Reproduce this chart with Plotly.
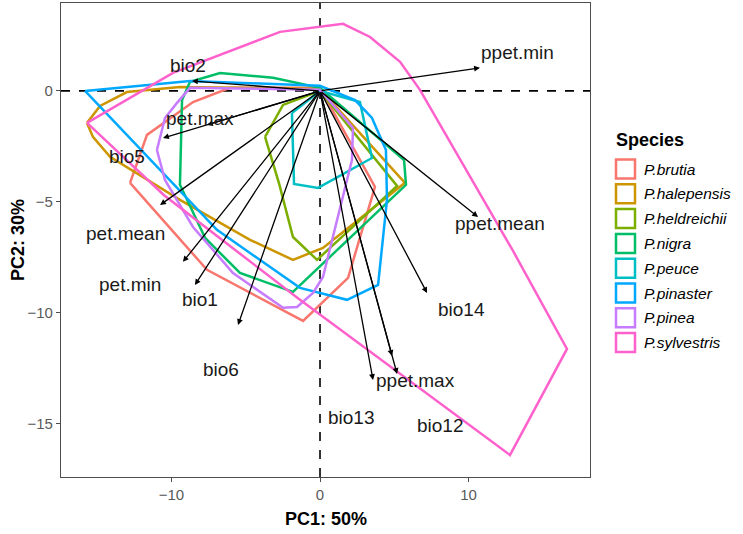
import plotly.graph_objects as go

# ---------------- data ----------------
species = ["P.brutia", "P.halepensis", "P.heldreichii", "P.nigra",
           "P.peuce", "P.pinaster", "P.pinea", "P.sylvestris"]
colors = ["#F8766D", "#CD9600", "#7CAE00", "#00BE67",
          "#00BFC4", "#00A9FF", "#C77CFF", "#FF61CC"]

# convex hulls of PCA scores (PC1, PC2) per species
brutia_x = [-12.79, -11.65, -8.55, -6.06, 0.0, 3.70, 1.89, -1.14, -7.61]
brutia_y = [-4.14, -1.98, -0.50, 0.14, 0.14, -4.32, -8.42, -10.36, -8.06]

halepensis_x = [-15.69, -14.81, -13.0, -9.43, 0.0, 5.72, 0.2, -1.82, -4.71, -9.43, -14.14, -15.29]
halepensis_y = [-1.44, -0.68, -0.05, 0.18, 0.09, -4.14, -7.07, -7.61, -6.71, -4.91, -2.97, -2.07]

heldreichii_x = [-3.70, -2.49, 0.0, 5.19, -0.2, -1.82, -2.75]
heldreichii_y = [-2.07, -0.63, 0.0, -4.28, -7.61, -6.58, -4.19]

nigra_x = [-9.29, -8.75, -6.73, -3.16, 0.0, 5.66, 5.79, -1.82, -5.39, -7.74, -9.43]
nigra_y = [-0.41, 0.41, 0.81, 0.59, 0.14, -3.11, -4.23, -9.05, -8.20, -6.62, -4.23]

peuce_x = [-1.89, -1.75, -0.13, 3.50, 2.69, 0.0]
peuce_y = [-0.99, -4.19, -4.37, -3.02, -0.50, 0.0]

pinaster_x = [-15.82, -8.75, 0.0, 2.36, 3.50, 4.44, 4.51, 3.91, 1.82, -1.35, -6.94]
pinaster_y = [0.0, 0.45, 0.23, -0.41, -1.22, -2.66, -4.91, -8.74, -9.41, -8.87, -6.26]

pinea_x = [-10.98, -10.44, -9.63, -8.75, 0.0, 2.22, 2.15, 1.35, 0.2, -0.47, -1.55, -2.49, -5.86, -8.55, -10.44]
pinea_y = [-2.66, -1.22, -0.54, 0.14, 0.05, -1.67, -3.11, -5.23, -8.38, -9.10, -9.73, -9.77, -8.20, -6.13, -4.01]

sylvestris_x = [-15.69, -9.90, -2.69, 1.55, 3.37, 5.39, 6.73, 13.0, 16.63, 12.79, -1.35, -10.5]
sylvestris_y = [-1.44, 0.81, 2.66, 3.02, 2.43, 1.31, 0.05, -7.21, -11.62, -16.40, -9.41, -4.70]

hull_x = [brutia_x, halepensis_x, heldreichii_x, nigra_x, peuce_x, pinaster_x, pinea_x, sylvestris_x]
hull_y = [brutia_y, halepensis_y, heldreichii_y, nigra_y, peuce_y, pinaster_y, pinea_y, sylvestris_y]

# variable loadings (arrow tips) and label positions
var_names = ["bio2", "pet.max", "bio5", "pet.mean", "pet.min", "bio1", "bio6",
             "bio13", "ppet.max", "bio12", "bio14", "ppet.mean", "ppet.min"]
load_x = [-8.62, -7.61, -10.57, -10.77, -9.23, -8.42, -5.52, 3.57, 4.85, 5.19, 7.21, 10.64, 10.77]
load_y = [0.45, -1.53, -2.12, -5.14, -7.70, -8.74, -10.54, -13.02, -11.94, -12.75, -9.10, -5.68, 1.04]
label_x = [-8.89, -8.08, -13.0, -13.13, -12.79, -8.08, -6.7, 2.15, 6.40, 8.08, 9.56, 12.12, 13.27]
label_y = [1.13, -1.22, -2.97, -6.44, -8.74, -9.41, -12.57, -14.73, -13.06, -15.05, -9.86, -5.99, 1.71]

x_ticks = [-10, 0, 10]
y_ticks = [-15, -10, -5, 0]

# ---------------- figure ----------------
W, H = 743, 534
ML, MR, MT, MB = 61, 153, 3, 57
PW, PH = W - ML - MR, H - MT - MB

def px_x(px):
    return (px - ML) / PW

def px_y(py):
    return (H - MB - py) / PH

FONT = "Liberation Sans, Arial, sans-serif"

fig = go.Figure()
for name, col, xs, ys in zip(species, colors, hull_x, hull_y):
    fig.add_trace(go.Scatter(
        x=xs + xs[:1], y=ys + ys[:1], mode="lines", name=name,
        line=dict(color=col, width=2.5), showlegend=False, hoverinfo="skip"))

annotations = []
for lx, ly in zip(load_x, load_y):
    annotations.append(dict(
        x=lx, y=ly, ax=0, ay=0, xref="x", yref="y", axref="x", ayref="y",
        text="", showarrow=True, arrowhead=2, arrowsize=0.9, arrowwidth=1.3,
        arrowcolor="black"))
for name, tx, ty in zip(var_names, label_x, label_y):
    annotations.append(dict(
        x=tx, y=ty, xref="x", yref="y", text=name, showarrow=False,
        xanchor="center", yanchor="middle",
        font=dict(family=FONT, size=19, color="#1a1a1a")))

# axis titles
annotations.append(dict(x=px_x(326), y=px_y(519), xref="paper", yref="paper",
                        text="<b>PC1: 50%</b>", showarrow=False,
                        xanchor="center", yanchor="middle",
                        font=dict(family=FONT, size=18, color="black")))
annotations.append(dict(x=px_x(18), y=px_y(240), xref="paper", yref="paper",
                        text="<b>PC2: 30%</b>", showarrow=False, textangle=-90,
                        xanchor="center", yanchor="middle",
                        font=dict(family=FONT, size=18, color="black")))

# manual legend
shapes = []
annotations.append(dict(x=px_x(614), y=px_y(140), xref="paper", yref="paper",
                        text="<b>Species</b>", showarrow=False,
                        xanchor="left", yanchor="middle",
                        font=dict(family=FONT, size=18, color="black")))
for i, (name, col) in enumerate(zip(species, colors)):
    cy = 169 + i * 24.8
    shapes.append(dict(type="rect", xref="paper", yref="paper",
                       x0=px_x(616), x1=px_x(635), y0=px_y(cy + 9.5), y1=px_y(cy - 9.5),
                       line=dict(color=col, width=2.5), fillcolor="white"))
    annotations.append(dict(x=px_x(642), y=px_y(cy), xref="paper", yref="paper",
                            text="<i>" + name + "</i>", showarrow=False,
                            xanchor="left", yanchor="middle",
                            font=dict(family=FONT, size=15.5, color="black")))

# dashed reference lines
shapes.append(dict(type="line", xref="x", yref="paper", x0=0, x1=0, y0=0, y1=1,
                   line=dict(color="black", width=1.6, dash="dash"), layer="below"))
shapes.append(dict(type="line", xref="paper", yref="y", x0=0, x1=1, y0=0, y1=0,
                   line=dict(color="black", width=1.6, dash="dash"), layer="below"))

fig.update_layout(
    width=W, height=H,
    margin=dict(l=ML, r=MR, t=MT, b=MB, pad=0),
    paper_bgcolor="white", plot_bgcolor="white",
    showlegend=False,
    annotations=annotations, shapes=shapes,
    xaxis=dict(range=[-17.44, 18.18], tickvals=x_ticks, ticks="outside", ticklen=4,
               tickcolor="#4d4d4d", showline=True, linecolor="#4d4d4d", linewidth=1.2,
               mirror=True, showgrid=False, zeroline=False,
               tickfont=dict(family=FONT, size=15, color="#5a5a5a")),
    yaxis=dict(range=[-17.39, 3.96], tickvals=y_ticks, ticks="outside", ticklen=4,
               tickcolor="#4d4d4d", showline=True, linecolor="#4d4d4d", linewidth=1.2,
               mirror=True, showgrid=False, zeroline=False,
               tickfont=dict(family=FONT, size=15, color="#5a5a5a")),
)

fig.write_html("out.html",
               config={"displayModeBar": False},
               post_script="document.body.style.margin='0';document.body.style.overflow='hidden';")
